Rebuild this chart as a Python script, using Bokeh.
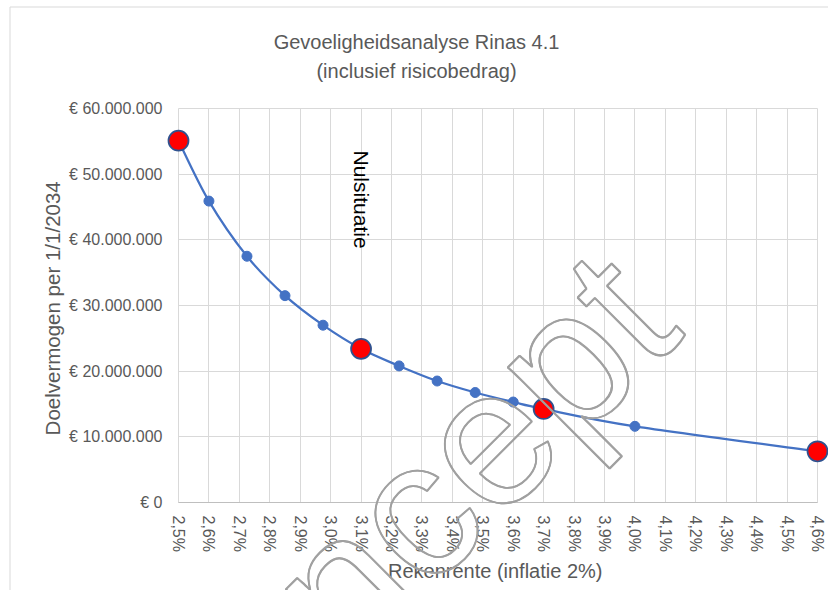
import math
from bokeh.plotting import figure
from bokeh.models import Range1d, FixedTicker, Label
from bokeh.core.properties import value
from bokeh.embed import file_html
from bokeh.resources import INLINE

# ---------------- data ----------------
title_line1 = "Gevoeligheidsanalyse Rinas 4.1"
title_line2 = "(inclusief risicobedrag)"
x_title = "Rekenrente  (inflatie 2%)"
y_title = "Doelvermogen  per 1/1/2034"

rente = [2.5, 2.6, 2.725, 2.85, 2.975, 3.1, 3.225, 3.35, 3.475, 3.6, 3.7, 4.0, 4.6]
doelvermogen = [55_100_000, 45_900_000, 37_500_000, 31_500_000, 27_000_000,
                23_400_000, 20_800_000, 18_500_000, 16_750_000, 15_300_000,
                14_250_000, 11_600_000, 7_800_000]

scenario_rente = [2.5, 3.1, 3.7, 4.6]
scenario_doelvermogen = [55_100_000, 23_400_000, 14_250_000, 7_800_000]

x_ticks = [2.5, 2.6, 2.7, 2.8, 2.9, 3.0, 3.1, 3.2, 3.3, 3.4, 3.5,
           3.6, 3.7, 3.8, 3.9, 4.0, 4.1, 4.2, 4.3, 4.4, 4.5, 4.6]
x_tick_labels = ["2,5%", "2,6%", "2,7%", "2,8%", "2,9%", "3,0%", "3,1%", "3,2%",
                 "3,3%", "3,4%", "3,5%", "3,6%", "3,7%", "3,8%", "3,9%", "4,0%",
                 "4,1%", "4,2%", "4,3%", "4,4%", "4,5%", "4,6%"]
y_ticks = [0, 10_000_000, 20_000_000, 30_000_000, 40_000_000, 50_000_000, 60_000_000]
y_tick_labels = ["€ 0", "€ 10.000.000", "€ 20.000.000", "€ 30.000.000",
                 "€ 40.000.000", "€ 50.000.000", "€ 60.000.000"]

annotation_text = "Nulsituatie"
annotation_x = 3.1
annotation_y = 53_600_000
watermark_text = "Concept"

# ---------------- layout / styling ----------------
FONT = "Liberation Sans"
GREY_TEXT = "#595959"
GRID = "#d9d9d9"
BLUE = "#4472C4"

W, H = 828, 590
FRAME_L, FRAME_R, FRAME_T, FRAME_B = 178, 817, 108, 502
X0, X1 = 2.5, 4.6
Y0, Y1 = 0, 60_000_000


def px_to_x(px):
    return X0 + (px - FRAME_L) / (FRAME_R - FRAME_L) * (X1 - X0)


def py_to_y(py):
    return Y0 + (FRAME_B - py) / (FRAME_B - FRAME_T) * (Y1 - Y0)


p = figure(width=W, height=H, output_backend="svg", toolbar_location=None,
           x_range=Range1d(X0, X1), y_range=Range1d(Y0, Y1),
           min_border_left=FRAME_L, min_border_right=W - FRAME_R,
           min_border_top=FRAME_T, min_border_bottom=H - FRAME_B)
p.background_fill_color = "white"
p.border_fill_color = "white"
p.outline_line_color = GRID

# axes
p.xaxis.ticker = FixedTicker(ticks=x_ticks)
p.xaxis.major_label_overrides = dict(zip(x_ticks, x_tick_labels))
p.xaxis.major_label_orientation = -math.pi / 2
p.yaxis.ticker = FixedTicker(ticks=y_ticks)
p.yaxis.major_label_overrides = dict(zip(y_ticks, y_tick_labels))
for ax in (p.xaxis[0], p.yaxis[0]):
    ax.major_tick_line_color = None
    ax.minor_tick_line_color = None
    ax.major_tick_out = 0
    ax.major_tick_in = 0
    ax.minor_tick_out = 0
    ax.minor_tick_in = 0
    ax.major_label_text_font = FONT
    ax.major_label_text_color = GREY_TEXT
    ax.major_label_text_font_size = "16px"
    ax.axis_label_text_font = FONT
    ax.axis_label_text_color = GREY_TEXT
    ax.axis_label_text_font_style = "normal"
p.xaxis.axis_line_color = "#bfbfbf"
p.yaxis.axis_line_color = None
p.xaxis.major_label_standoff = 13
p.yaxis.major_label_standoff = 16
p.xaxis.axis_label = x_title
p.yaxis.axis_label = y_title
p.xaxis.axis_label_text_font_size = "20px"
p.yaxis.axis_label_text_font_size = "20.5px"
p.xaxis.axis_label_standoff = 5
p.yaxis.axis_label_standoff = 2

# grid
p.xgrid.ticker = FixedTicker(ticks=x_ticks)
p.ygrid.ticker = FixedTicker(ticks=y_ticks)
p.xgrid.grid_line_color = GRID
p.ygrid.grid_line_color = GRID
p.xgrid.grid_line_width = 1
p.ygrid.grid_line_width = 1

# chart-area border (only its left and top edges fall inside the picture)
p.multi_line(xs=[[px_to_x(9.5), px_to_x(9.5), px_to_x(900)]],
             ys=[[py_to_y(700), py_to_y(6.5), py_to_y(6.5)]],
             line_color=GRID, line_width=1, level="guide")

# smoothed line (Catmull-Rom style bezier through the data points)
n = len(rente)
x0, y0, x1, y1, cx0, cy0, cx1, cy1 = [], [], [], [], [], [], [], []
for i in range(n - 1):
    xm1, ym1 = (rente[i - 1], doelvermogen[i - 1]) if i > 0 else (rente[i], doelvermogen[i])
    xp2, yp2 = (rente[i + 2], doelvermogen[i + 2]) if i + 2 < n else (rente[i + 1], doelvermogen[i + 1])
    x0.append(rente[i]); y0.append(doelvermogen[i])
    x1.append(rente[i + 1]); y1.append(doelvermogen[i + 1])
    cx0.append(rente[i] + (rente[i + 1] - xm1) / 6)
    cy0.append(doelvermogen[i] + (doelvermogen[i + 1] - ym1) / 6)
    cx1.append(rente[i + 1] - (xp2 - rente[i]) / 6)
    cy1.append(doelvermogen[i + 1] - (yp2 - doelvermogen[i]) / 6)
p.bezier(x0=x0, y0=y0, x1=x1, y1=y1, cx0=cx0, cy0=cy0, cx1=cx1, cy1=cy1,
         line_color=BLUE, line_width=2.25)

p.scatter(rente, doelvermogen, size=10, fill_color=BLUE, line_color=BLUE)
p.scatter(scenario_rente, scenario_doelvermogen, size=20, fill_color="#ff0000",
          line_color="#2F528F", line_width=1.75, level="guide")

# annotation "Nulsituatie"
p.add_layout(Label(x=annotation_x, y=annotation_y, text=annotation_text,
                   angle=-math.pi / 2, text_align="left", text_baseline="middle",
                   text_font=FONT, text_font_size="21px", text_color="black"))

# titles (in the side panel above, so they are not clipped to the plot frame)
p.add_layout(Label(x=416, y=41, x_units="canvas", y_units="canvas", text=title_line1,
                   text_align="center", text_baseline="middle", text_font=FONT,
                   text_font_size="20px", text_color=GREY_TEXT), "above")
p.add_layout(Label(x=416, y=70, x_units="canvas", y_units="canvas", text=title_line2,
                   text_align="center", text_baseline="middle", text_font=FONT,
                   text_font_size="20px", text_color=GREY_TEXT), "above")

# watermark: outlined text drawn above everything (stroke thickened by tiny offsets)
offsets = [(0, 0), (0.8, 0), (0, 0.8), (0.8, 0.8)]
p.text(x=[px_to_x(381 + dx) for dx, dy in offsets],
       y=[py_to_y(542 + dy) for dx, dy in offsets],
       text=[watermark_text] * len(offsets),
       angle=math.pi / 4, text_align="center", text_baseline="alphabetic",
       text_font=value(FONT), text_font_size="195px",
       text_color="rgba(255,255,255,0)", text_outline_color="#a0a0a0",
       level="annotation")

open("out.html", "w").write(file_html(p, INLINE))
